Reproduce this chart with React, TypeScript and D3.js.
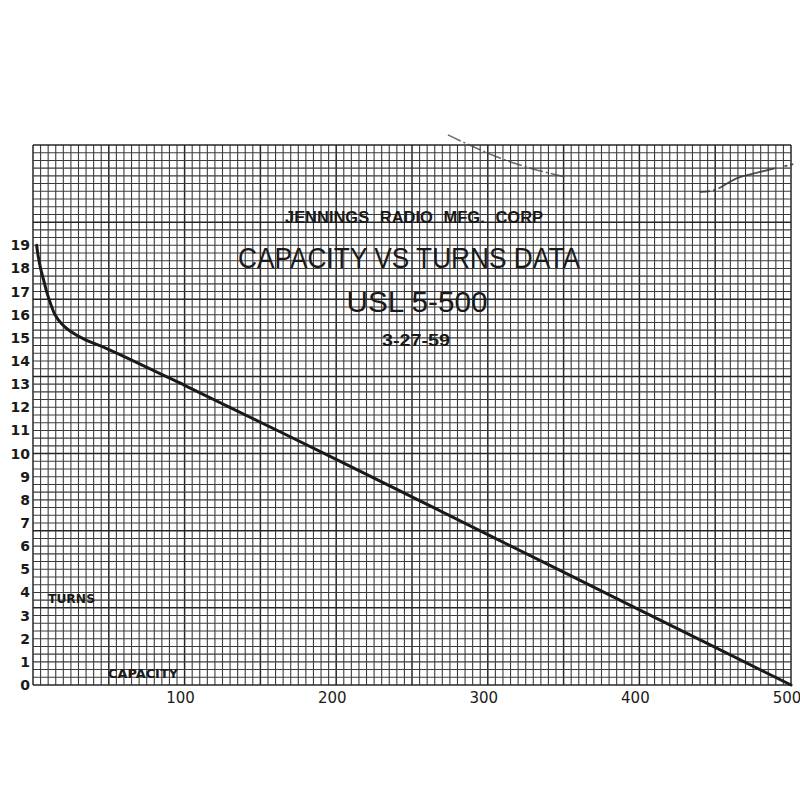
import React from "react";
import * as d3 from "d3";

// ---- data ----
const capacity = [2.4, 3.5, 5, 7, 9, 11.5, 14.5, 19, 24.4, 35, 48.6, 100, 200, 300, 400, 500];
const turns = [19, 18.5, 18, 17.5, 17, 16.5, 16, 15.6, 15.3, 14.9, 14.54, 12.95, 9.75, 6.5, 3.25, 0];
const yTickValues = [0, 1, 2, 3, 4, 5, 6, 7, 8, 9, 10, 11, 12, 13, 14, 15, 16, 17, 18, 19];
const xTickValues = [100, 200, 300, 400, 500];
const titleLines = ["JENNINGS RADIO MFG. CORP", "CAPACITY VS TURNS DATA", "USL 5-500", "3-27-59"];
// faint traces of another curve visible at the top of the sheet (data units)
const faintCapA = [273.7, 286.3, 308, 329.8, 351];
const faintTurnsA = [23.77, 23.38, 22.77, 22.3, 21.95];
const faintCapB = [440, 449.9, 464.4, 479.6, 505.3];
const faintTurnsB = [21.3, 21.39, 21.9, 22.17, 22.56];

const X_MAX = 500;
const Y_MAX = 70 / 3;

export default function App() {
  const x = d3.scaleLinear().domain([0, X_MAX]).range([33, 791]);
  const y = d3.scaleLinear().domain([0, Y_MAX]).range([685, 145]);

  const vLines = d3.range(0, X_MAX + 0.001, 5);
  const hLines = d3.range(0, 71).map((i) => i / 3);

  const pts: [number, number][] = capacity.map((c, i) => [c, turns[i]]);
  const line = d3
    .line<[number, number]>()
    .x((d) => x(d[0]))
    .y((d) => y(d[1]))
    .curve(d3.curveCatmullRom.alpha(0.5));

  const fa: [number, number][] = faintCapA.map((c, i) => [c, faintTurnsA[i]]);
  const fb: [number, number][] = faintCapB.map((c, i) => [c, faintTurnsB[i]]);
  const faint = d3
    .line<[number, number]>()
    .x((d) => x(d[0]))
    .y((d) => y(d[1]))
    .curve(d3.curveCatmullRom);

  return (
    <svg
      width={800}
      height={800}
      style={{ position: "absolute", left: 0, top: 0, background: "#fff" }}
    >
      <rect x={0} y={0} width={800} height={800} fill="#fff" />
      <g>
        {vLines.map((v, i) => {
          const major = i % 10 === 0;
          return (
            <line
              key={"v" + i}
              x1={x(v)}
              x2={x(v)}
              y1={y(Y_MAX)}
              y2={y(0)}
              stroke={major ? "#262626" : "#3c3c3c"}
              strokeWidth={major ? 1.5 : 1.1}
            />
          );
        })}
        {hLines.map((v, i) => {
          const major = i % 10 === 0;
          return (
            <line
              key={"h" + i}
              x1={x(0)}
              x2={x(X_MAX)}
              y1={y(v)}
              y2={y(v)}
              stroke={major ? "#262626" : "#3c3c3c"}
              strokeWidth={major ? 1.5 : 1.1}
            />
          );
        })}
      </g>

      {/* faint traces */}
      <path d={faint(fa) || ""} fill="none" stroke="#444" strokeWidth={1.6} strokeDasharray="14 3 2 3" opacity={0.8} />
      <path d={faint(fb) || ""} fill="none" stroke="#333" strokeWidth={1.8} strokeDasharray="2 0 0 0 8 3 3 3 60" opacity={0.85} />

      {/* main curve */}
      <path d={line(pts) || ""} fill="none" stroke="#1a1a1a" strokeWidth={3} strokeLinecap="round" />

      {/* y ticks */}
      <g fontFamily="DejaVu Sans, sans-serif" fontWeight="bold" fontSize={14} fill="#1a1a1a">
        {yTickValues.map((v) => (
          <text key={v} x={30} y={y(v)} dy="0.36em" textAnchor="end">
            {v}
          </text>
        ))}
      </g>
      {/* x ticks */}
      <g fontFamily="DejaVu Sans, sans-serif" fontSize={15} fill="#1a1a1a">
        {xTickValues.map((v) => (
          <text key={v} x={x(v) - 4} y={703} textAnchor="middle">
            {v}
          </text>
        ))}
      </g>

      {/* axis names */}
      <text x={48} y={603} fontFamily="DejaVu Sans, sans-serif" fontWeight="bold" fontSize={12.5} fill="#1a1a1a" textLength={47} lengthAdjust="spacingAndGlyphs">
        TURNS
      </text>
      <text x={108} y={678} fontFamily="DejaVu Sans, sans-serif" fontWeight="bold" fontSize={13} fill="#1a1a1a" textLength={70} lengthAdjust="spacingAndGlyphs">
        CAPACITY
      </text>

      {/* titles */}
      <text x={414} y={223} textAnchor="middle" fontFamily="Liberation Sans, sans-serif" fontWeight="bold" fontSize={16} fill="#1a1a1a" textLength={258} lengthAdjust="spacingAndGlyphs" wordSpacing={6}>
        {titleLines[0]}
      </text>
      <text x={409} y={268} textAnchor="middle" fontFamily="Liberation Sans, sans-serif" fontSize={29} fill="#1a1a1a" textLength={342} lengthAdjust="spacingAndGlyphs">
        {titleLines[1]}
      </text>
      <text x={417} y={312} textAnchor="middle" fontFamily="Liberation Sans, sans-serif" fontSize={30} fill="#1a1a1a" textLength={141} lengthAdjust="spacingAndGlyphs">
        {titleLines[2]}
      </text>
      <text x={416} y={346} textAnchor="middle" fontFamily="Liberation Sans, sans-serif" fontWeight="bold" fontSize={17} fill="#1a1a1a" textLength={68} lengthAdjust="spacingAndGlyphs">
        {titleLines[3]}
      </text>
    </svg>
  );
}
